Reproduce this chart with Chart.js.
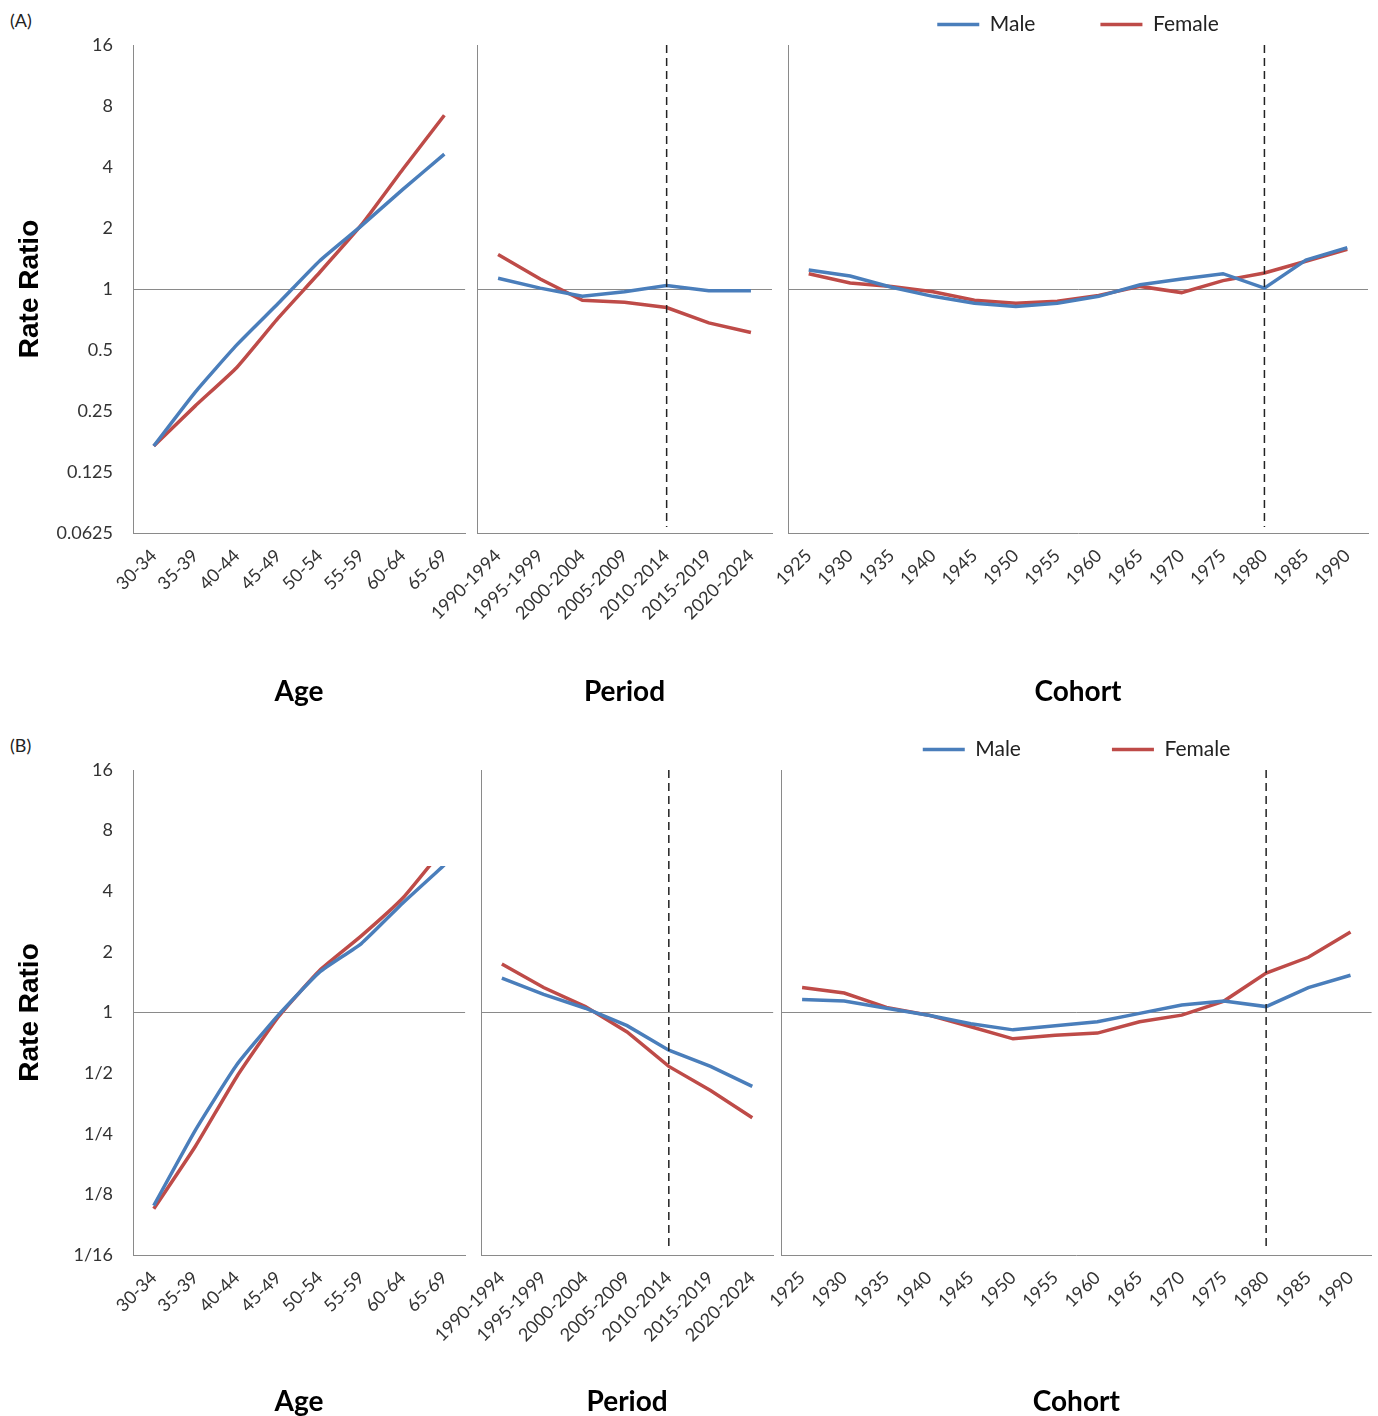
<!DOCTYPE html>
<html><head><meta charset="utf-8">
<script src="https://cdn.jsdelivr.net/npm/chart.js@4.4.1/dist/chart.umd.min.js"></script>
<style>
html,body{margin:0;padding:0;background:#fff;}
body{width:1378px;height:1416px;position:relative;overflow:hidden;}
.box{position:absolute;}
.tag{position:absolute;font:18px Lato,sans-serif;color:#222;line-height:20px;}
</style></head><body>
<div class="tag" style="left:10px;top:10px">(A)</div>
<div class="tag" style="left:10px;top:735px">(B)</div>
<div class="box" style="left:0;top:0;width:472px;height:706px"><canvas id="aAge"></canvas></div>
<div class="box" style="left:400px;top:0;width:380px;height:706px"><canvas id="aPer"></canvas></div>
<div class="box" style="left:740px;top:0;width:638px;height:706px"><canvas id="aCoh"></canvas></div>
<div class="box" style="left:0;top:720px;width:472px;height:696px"><canvas id="bAge"></canvas></div>
<div class="box" style="left:400px;top:720px;width:380px;height:696px"><canvas id="bPer"></canvas></div>
<div class="box" style="left:740px;top:720px;width:638px;height:696px"><canvas id="bCoh"></canvas></div>
<script>
// ---------- data ----------
const ageLabels = ['30-34','35-39','40-44','45-49','50-54','55-59','60-64','65-69'];
const periodLabels = ['1990-1994','1995-1999','2000-2004','2005-2009','2010-2014','2015-2019','2020-2024'];
const cohortLabels = ['1925','1930','1935','1940','1945','1950','1955','1960','1965','1970','1975','1980','1985','1990'];
const yTickValues = [0.0625,0.125,0.25,0.5,1,2,4,8,16];
const yTickLabelsA = ['0.0625','0.125','0.25','0.5','1','2','4','8','16'];
const yTickLabelsB = ['1/16','1/8','1/4','1/2','1','2','4','8','16'];
const periodMark = '2010-2014';
const cohortMark = '1980';

// Panel A
const ageMaleA = [0.168,0.31,0.53,0.85,1.38,2.05,3.1,4.63];
const ageFemaleA = [0.168,0.265,0.41,0.72,1.21,2.07,3.9,7.2];
const periodMaleA = [1.13,1.01,0.92,0.97,1.04,0.98,0.98];
const periodFemaleA = [1.48,1.12,0.88,0.86,0.81,0.68,0.61];
const cohortMaleA = [1.24,1.16,1.02,0.92,0.85,0.82,0.85,0.92,1.05,1.12,1.19,1.01,1.39,1.6];
const cohortFemaleA = [1.19,1.07,1.03,0.97,0.88,0.85,0.87,0.93,1.03,0.96,1.1,1.2,1.37,1.57];

// Panel B
const ageMaleB = [0.11,0.26,0.55,0.97,1.59,2.2,3.5,5.4];
const ageFemaleB = [0.106,0.216,0.48,0.95,1.62,2.4,3.7,6.6];
const periodMaleB = [1.48,1.23,1.05,0.86,0.65,0.54,0.43];
const periodFemaleB = [1.74,1.33,1.07,0.8,0.54,0.41,0.3];
const cohortMaleB = [1.16,1.14,1.05,0.97,0.88,0.82,0.86,0.9,0.99,1.09,1.14,1.07,1.33,1.53];
const cohortFemaleB = [1.33,1.25,1.06,0.97,0.85,0.74,0.77,0.79,0.9,0.97,1.14,1.57,1.88,2.51];

// ---------- styling ----------
const C = {male:'#4a7ebb', female:'#be4b48', axis:'#8a8a8a', text:'#333333'};
Chart.defaults.font.family = 'Lato';

const vlinePlugin = {
  id: 'vline',
  afterDatasetsDraw(chart, args, opts) {
    if (opts.index == null || opts.index < 0) return;
    const x = chart.scales.x.getPixelForValue(opts.index);
    const {top, bottom} = chart.chartArea;
    const ctx = chart.ctx;
    ctx.save();
    ctx.strokeStyle = '#222';
    ctx.lineWidth = 1.5;
    ctx.setLineDash([8, 5]);
    ctx.beginPath();
    ctx.moveTo(x, top);
    ctx.lineTo(x, bottom - 6);
    ctx.stroke();
    ctx.restore();
  }
};

function build(id, cfg) {
  const ds = (label, data, color) => ({
    label, data, borderColor: color, backgroundColor: color,
    borderWidth: 3.5, pointRadius: 0, pointHoverRadius: 0, tension: cfg.tension || 0,
    clip: cfg.clip || undefined
  });
  const legendH = cfg.legendPad ? (21 + cfg.legendPad + 10) : 0;
  new Chart(document.getElementById(id), {
    type: 'line',
    data: {labels: cfg.labels, datasets: [ds('Male', cfg.male, C.male), ds('Female', cfg.female, C.female)]},
    options: {
      responsive: true, maintainAspectRatio: false, animation: false,
      layout: {padding: {top: cfg.top - legendH, left: cfg.padLeft, right: cfg.padRight, bottom: 0}},
      plugins: {
        tooltip: {enabled: false},
        legend: cfg.legendPad ? {
          display: true, position: 'top', align: 'center',
          labels: {usePointStyle: true, pointStyle: 'line', pointStyleWidth: 42, padding: cfg.legendPad,
                   color: '#222', font: {family: 'Lato', size: 21}}
        } : {display: false},
        vline: {index: cfg.mark}
      },
      scales: {
        x: {
          offset: true,
          grid: {display: false, drawTicks: false},
          border: {display: true, color: C.axis, width: 1},
          ticks: {autoSkip: false, minRotation: 45, maxRotation: 45, padding: 12, color: C.text,
                  font: {family: 'Lato', size: 18}},
          title: {display: true, text: cfg.xTitle, color: '#000', padding: 0,
                  font: {family: 'Lato', size: 28, weight: 'bold', lineHeight: 1}},
          afterFit: s => { s.height = cfg.height - cfg.bottom; }
        },
        y: {
          type: 'logarithmic', min: 0.0625, max: 16,
          afterBuildTicks: s => { s.ticks = yTickValues.map(v => ({value: v})); },
          grid: {drawTicks: false, lineWidth: 1,
                 color: c => (c.tick && c.tick.value === 1) ? C.axis : 'rgba(0,0,0,0)'},
          border: {display: true, color: C.axis, width: 1},
          ticks: {display: !!cfg.yLabels, padding: 20, color: C.text, font: {family: 'Lato', size: 18},
                  callback: (v, i) => cfg.yLabels ? cfg.yLabels[i] : ''},
          title: cfg.yLabels ? {display: true, text: 'Rate Ratio', color: '#000', padding: {top: 16, bottom: 0},
                  font: {family: 'Liberation Sans', size: 28, weight: 'bold', lineHeight: 1}} : {display: false},
          afterFit: s => { s.width = cfg.yWidth; }
        }
      }
    },
    plugins: [vlinePlugin]
  });
}

// Panel A
build('aAge', {labels: ageLabels, male: ageMaleA, female: ageFemaleA, yLabels: yTickLabelsA, xTitle: 'Age',
  height: 706, top: 45, bottom: 533, padLeft: 0, padRight: 6, yWidth: 133, tension: 0.15});
build('aPer', {labels: periodLabels, male: periodMaleA, female: periodFemaleA, xTitle: 'Period',
  height: 706, top: 45, bottom: 533, padLeft: 77, padRight: 8, yWidth: 0, mark: periodLabels.indexOf(periodMark)});
build('aCoh', {labels: cohortLabels, male: cohortMaleA, female: cohortFemaleA, xTitle: 'Cohort',
  height: 706, top: 45, bottom: 533, padLeft: 48, padRight: 10, yWidth: 0, legendPad: 65,
  mark: cohortLabels.indexOf(cohortMark)});
// Panel B
build('bAge', {labels: ageLabels, male: ageMaleB, female: ageFemaleB, yLabels: yTickLabelsB, xTitle: 'Age',
  height: 696, top: 50, bottom: 535, padLeft: 0, padRight: 6, yWidth: 133, tension: 0.15,
  clip: {left: 4, right: 4, bottom: 4, top: -96}});
build('bPer', {labels: periodLabels, male: periodMaleB, female: periodFemaleB, xTitle: 'Period',
  height: 696, top: 50, bottom: 535, padLeft: 81, padRight: 6, yWidth: 0, mark: periodLabels.indexOf(periodMark)});
build('bCoh', {labels: cohortLabels, male: cohortMaleB, female: cohortFemaleB, xTitle: 'Cohort',
  height: 696, top: 50, bottom: 535, padLeft: 41, padRight: 6, yWidth: 0, legendPad: 91,
  mark: cohortLabels.indexOf(cohortMark)});
</script>
</body></html>
